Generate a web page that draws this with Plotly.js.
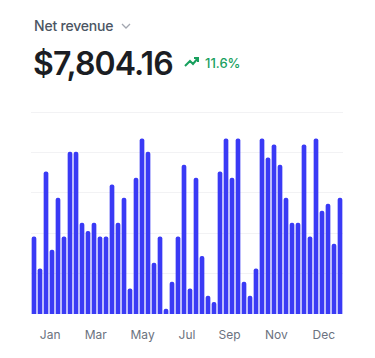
<!DOCTYPE html>
<html>
<head>
<meta charset="utf-8">
<script src="https://cdn.plot.ly/plotly-3.0.1.min.js"></script>
<style>
  html, body { margin: 0; padding: 0; background: #ffffff; }
  #chart { width: 375px; height: 358px; }
</style>
</head>
<body>
<div id="chart"></div>
<script>
// Weekly net revenue (relative units)
const weeklyRevenue = [
  192, 113, 353, 159, 288, 192, 402, 402, 226, 206,
  226, 192, 192, 321, 226, 288, 63, 338, 435, 402,
  127, 192, 13, 80, 192, 370, 63, 338, 144, 45,
  30, 353, 435, 338, 435, 80, 45, 113, 435, 388,
  420, 370, 288, 226, 226, 420, 192, 435, 256, 273,
  174, 288
];
const monthLabels = ["Jan", "Mar", "May", "Jul", "Sep", "Nov", "Dec"];
const monthTickWeek = [2.7, 10.3, 18.1, 25.5, 32.6, 40.4, 48.3];

const titleText = "Net revenue";
const totalText = "$7,804.16";
const changeText = "11.6%";

const weekIndex = weeklyRevenue.map((_, i) => i);

const W = 375, H = 358;
const M = { l: 31, r: 32, t: 105, b: 44 };
const pw = W - M.l - M.r, ph = H - M.t - M.b;
const px = x => (x - M.l) / pw;
const py = y => (H - M.b - y) / ph;

const green = "#18a05e";

const trace = {
  type: "bar",
  x: weekIndex,
  y: weeklyRevenue,
  marker: { color: "#3a3af5", line: { width: 0 } },
  hoverinfo: "skip"
};

const layout = {
  width: W, height: H,
  margin: M,
  paper_bgcolor: "#ffffff",
  plot_bgcolor: "#ffffff",
  showlegend: false,
  bargap: 0.22,
  barcornerradius: 2,
  font: { family: "Inter, 'Noto Sans', sans-serif" },
  xaxis: {
    type: "linear",
    range: [-0.5, weeklyRevenue.length - 0.5],
    tickmode: "array",
    tickvals: monthTickWeek,
    ticktext: monthLabels,
    showgrid: false,
    zeroline: false,
    showline: false,
    ticks: "",
    ticklabelstandoff: 12,
    tickfont: { family: "Inter, sans-serif", size: 12, color: "#6b7280" },
    fixedrange: true
  },
  yaxis: {
    range: [0, 518],
    dtick: 100,
    showticklabels: false,
    showgrid: true,
    gridcolor: "#f2f2f4",
    gridwidth: 1,
    zeroline: false,
    showline: false,
    ticks: "",
    fixedrange: true
  },
  annotations: [
    {
      xref: "paper", yref: "paper", x: px(32), y: py(26),
      xanchor: "left", yanchor: "middle", showarrow: false,
      text: "<span style='letter-spacing:-0.2px'>" + titleText + "</span>",
      font: { family: "Inter, sans-serif", size: 14, color: "#4b5563", weight: 500 }
    },
    {
      xref: "paper", yref: "paper", x: px(31), y: py(63),
      xanchor: "left", yanchor: "middle", showarrow: false,
      text: "<span style='letter-spacing:-0.9px'>" + totalText + "</span>",
      font: { family: "Inter, sans-serif", size: 32, color: "#1b1d23", weight: 600 }
    },
    {
      xref: "paper", yref: "paper", x: px(203), y: py(63),
      xanchor: "left", yanchor: "middle", showarrow: false,
      text: changeText,
      font: { family: "Inter, sans-serif", size: 13, color: green, weight: 500 }
    }
  ],
  shapes: [
    {
      type: "path", xref: "paper", yref: "paper",
      xsizemode: "pixel", ysizemode: "pixel",
      xanchor: px(122), yanchor: py(24),
      path: "M0,0 L4,-4 L8,0",
      line: { color: "#a3a7b0", width: 1.3 }
    },
    {
      type: "path", xref: "paper", yref: "paper",
      xsizemode: "pixel", ysizemode: "pixel",
      xanchor: px(185), yanchor: py(66),
      path: "M0,0 L5,5 L8,2 L13,8 M9,8 L13,8 L13,4",
      line: { color: green, width: 2 }
    }
  ]
};

Plotly.newPlot("chart", [trace], layout, { displayModeBar: false, staticPlot: true });
</script>
</body>
</html>
